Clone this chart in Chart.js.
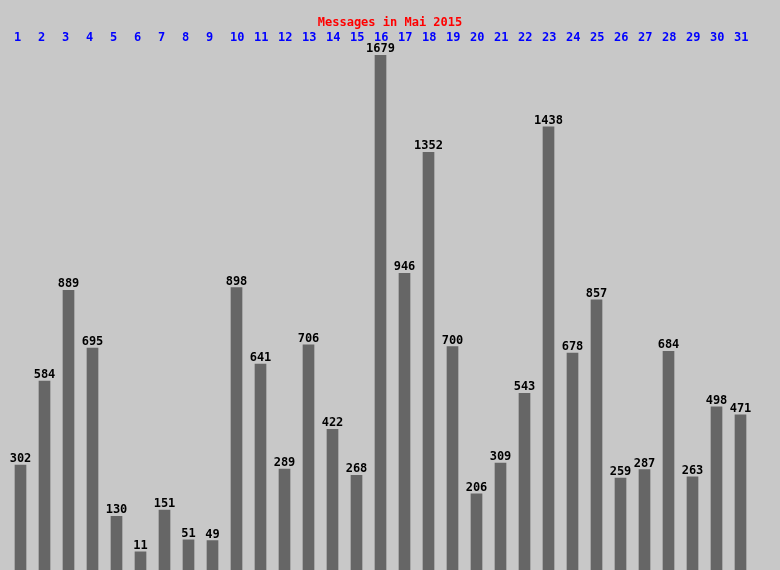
<!DOCTYPE html>
<html>
<head>
<meta charset="utf-8">
<script src="https://cdn.jsdelivr.net/npm/chart.js@4/dist/chart.umd.min.js"></script>
<style>
  html, body { margin: 0; padding: 0; background: #c8c8c8; }
  #wrap { width: 780px; height: 570px; }
</style>
</head>
<body>
<div id="wrap"><canvas id="chart"></canvas></div>
<script>
// jours du mois et nombre de messages
const days = ["1","2","3","4","5","6","7","8","9","10","11","12","13","14","15","16","17","18","19","20","21","22","23","24","25","26","27","28","29","30","31"];
const messages = [302, 584, 889, 695, 130, 11, 151, 51, 49, 898, 641, 289, 706, 422, 268, 1679, 946, 1352, 700, 206, 309, 543, 1438, 678, 857, 259, 287, 684, 263, 498, 471];
const chartTitle = "Messages in Mai 2015";
const yMin = -50;
const yMax = 1679;

const FONT = "bold 12px 'DejaVu Sans Mono', 'Liberation Mono', monospace";

const labelsPlugin = {
  id: "labels",
  afterDatasetsDraw(chart) {
    const ctx = chart.ctx;
    const meta = chart.getDatasetMeta(0);
    const xScale = chart.scales.x;
    ctx.save();
    ctx.font = FONT;

    // titre
    ctx.fillStyle = "#ff0000";
    ctx.textAlign = "center";
    ctx.textBaseline = "alphabetic";
    ctx.fillText(chartTitle, chart.width / 2, 26);

    // numéros des jours en haut
    ctx.fillStyle = "#0000ff";
    ctx.textAlign = "left";
    days.forEach((d, i) => {
      ctx.fillText(d, xScale.getPixelForValue(i) - 6.5, 41);
    });

    // valeurs au-dessus des barres
    ctx.fillStyle = "#000000";
    ctx.textAlign = "center";
    meta.data.forEach((bar, i) => {
      ctx.fillText(String(messages[i]), bar.x, bar.y - 3);
    });
    ctx.restore();
  }
};

new Chart(document.getElementById("chart"), {
  type: "bar",
  data: {
    labels: days,
    datasets: [{
      data: messages,
      backgroundColor: "#666666",
      borderWidth: 0,
      barThickness: 11,
      base: yMin
    }]
  },
  options: {
    responsive: true,
    maintainAspectRatio: false,
    animation: false,
    layout: { padding: { left: 8.5, right: 27.5, top: 55, bottom: 0 } },
    scales: {
      x: { display: false, offset: true, grid: { display: false } },
      y: { display: false, min: yMin, max: yMax, grid: { display: false } }
    },
    plugins: {
      legend: { display: false },
      title: { display: false },
      tooltip: { enabled: false }
    }
  },
  plugins: [labelsPlugin]
});
</script>
</body>
</html>
